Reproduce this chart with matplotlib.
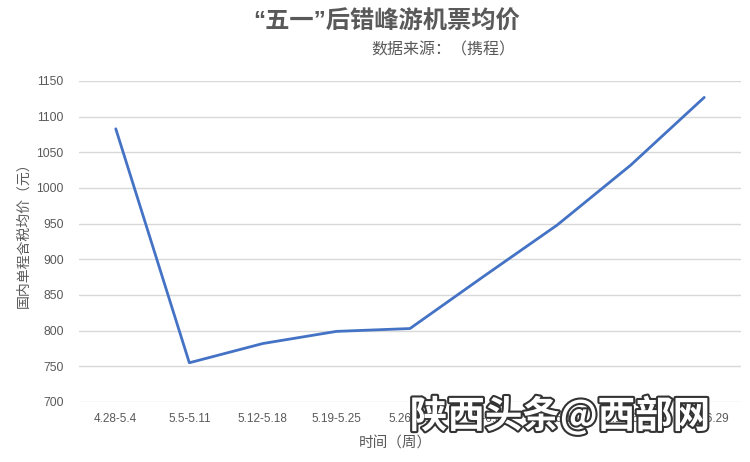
import matplotlib
matplotlib.use("Agg")
import matplotlib.pyplot as plt
import matplotlib.patheffects as pe

plt.rcParams['font.family'] = ['Noto Sans CJK SC', 'DejaVu Sans']

weeks = ["4.28-5.4", "5.5-5.11", "5.12-5.18", "5.19-5.25", "5.26-6.1",
         "6.2-6.8", "6.9-6.15", "6.16-6.22", "6.23-6.29"]
prices = [1083, 755, 782, 799, 803, 876, 948, 1032, 1127]
yticks = [700, 750, 800, 850, 900, 950, 1000, 1050, 1100, 1150]

title = "“五一”后错峰游机票均价"
subtitle = "数据来源：（携程）"
ylabel = "国内单程含税均价（元）"
xlabel = "时间（周）"
watermark = "陕西头条@西部网"

grey = "#595959"
fig = plt.figure(figsize=(7.5, 4.62), dpi=100)
ax = fig.add_axes([79/750, 1-402/462, (741-79)/750, (402-81)/462])

x = list(range(len(weeks)))
ax.plot(x, prices, color="#4472C4", linewidth=2.0, solid_capstyle="round", zorder=3)
ax.set_xlim(-0.5, len(weeks)-0.5)
ax.set_ylim(700, 1150)
ax.set_yticks(yticks)
ax.set_yticklabels([str(v) for v in yticks], fontsize=8.8, color=grey,
                   family=['Liberation Sans', 'DejaVu Sans'])
ax.set_xticks(x)
ax.set_xticklabels(weeks, fontsize=8.5, color=grey,
                   family=['Liberation Sans', 'DejaVu Sans'])
ax.tick_params(axis='y', length=0, pad=11)
ax.tick_params(axis='x', length=0, pad=8)
ax.grid(axis="y", color="#d9d9d9", linewidth=1)
ax.set_axisbelow(True)
for s in ax.spines.values():
    s.set_visible(False)

fig.text(387/750, 1-22/462, title, ha="center", va="center", fontsize=17.5,
         fontweight="bold", color=grey,
         family=['Liberation Sans', 'Noto Sans CJK SC'])
fig.text(443/750, 1-50/462, subtitle, ha="center", va="center", fontsize=11.5,
         color=grey)
fig.text(23/750, 1-232/462, ylabel, ha="center", va="center", rotation=90,
         fontsize=10, color=grey)
fig.text(395/750, 1-444/462, xlabel, ha="center", va="center", fontsize=10.5,
         color=grey)
fig.text(560/750, 1-416/462, watermark, ha="center", va="center", fontsize=27,
         fontweight="bold", color="white", style="italic", zorder=5,
         path_effects=[pe.withStroke(linewidth=3, foreground="#333333")])

fig.savefig("out.png", dpi=100)
